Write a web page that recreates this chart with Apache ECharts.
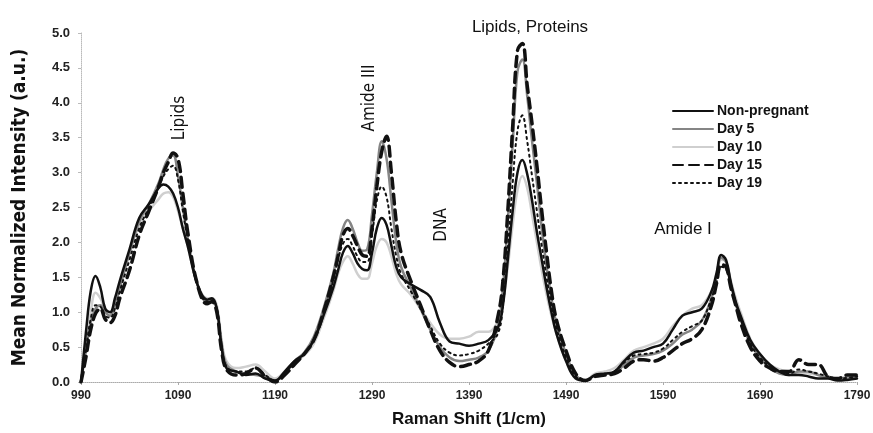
<!DOCTYPE html>
<html><head><meta charset="utf-8">
<script src="https://cdn.jsdelivr.net/npm/echarts@6/dist/echarts.min.js"></script>
<style>html,body{margin:0;padding:0;background:#fff}#c{width:873px;height:433px}</style>
</head><body><div id="c"></div>
<script>
const shifts = [990,995,1000,1005,1010,1015,1020,1025,1030,1040,1050,1060,1070,1075,1080,1085,1090,1095,1100,1110,1120,1125,1130,1135,1140,1150,1160,1170,1180,1190,1200,1210,1220,1230,1240,1250,1255,1260,1265,1270,1275,1280,1285,1290,1295,1300,1305,1310,1315,1320,1330,1340,1350,1360,1370,1380,1390,1400,1410,1420,1425,1430,1435,1440,1445,1450,1455,1460,1465,1470,1475,1480,1490,1500,1510,1520,1530,1540,1550,1560,1570,1580,1590,1600,1610,1620,1630,1640,1645,1650,1655,1660,1665,1670,1680,1690,1700,1710,1720,1730,1740,1750,1760,1770,1780,1790];

const nonPregnant = [0.0,0.7,1.3,1.52,1.35,1.05,1.0,1.2,1.45,1.9,2.35,2.55,2.78,2.83,2.8,2.7,2.5,2.2,1.95,1.4,1.18,1.2,1.05,0.5,0.2,0.15,0.1,0.12,0.05,0.02,0.15,0.3,0.4,0.6,0.95,1.35,1.6,1.85,1.95,1.85,1.7,1.62,1.6,1.85,2.2,2.35,2.25,1.95,1.65,1.5,1.4,1.32,1.22,0.85,0.58,0.55,0.52,0.55,0.6,0.78,1.1,1.75,2.45,3.0,3.18,2.98,2.6,2.15,1.75,1.35,1.0,0.7,0.3,0.05,0.02,0.1,0.12,0.15,0.3,0.42,0.45,0.5,0.55,0.75,0.95,1.0,1.05,1.3,1.55,1.82,1.75,1.42,1.15,0.95,0.6,0.4,0.25,0.15,0.1,0.1,0.08,0.05,0.05,0.02,0.03,0.05];

const day5 = [0.0,0.45,0.85,1.05,1.1,1.0,0.95,1.1,1.35,1.85,2.3,2.55,2.85,3.05,3.2,3.25,2.95,2.5,2.05,1.4,1.15,1.18,1.05,0.55,0.25,0.15,0.12,0.1,0.08,0.02,0.12,0.3,0.42,0.65,1.05,1.55,1.9,2.2,2.32,2.2,2.0,1.88,1.9,2.4,3.0,3.45,3.2,2.6,2.0,1.65,1.35,1.05,0.75,0.5,0.35,0.3,0.32,0.35,0.45,0.8,1.35,2.3,3.4,4.45,4.62,4.1,3.45,2.85,2.2,1.65,1.2,0.85,0.4,0.1,0.02,0.1,0.12,0.13,0.25,0.35,0.38,0.4,0.45,0.55,0.68,0.75,0.88,1.2,1.5,1.78,1.72,1.4,1.12,0.9,0.55,0.35,0.2,0.12,0.1,0.15,0.15,0.1,0.06,0.05,0.05,0.08];

const day10 = [0.0,0.5,1.0,1.28,1.2,1.05,1.0,1.15,1.4,1.85,2.25,2.45,2.62,2.7,2.72,2.65,2.45,2.2,1.95,1.4,1.2,1.2,1.1,0.6,0.3,0.2,0.22,0.25,0.15,0.05,0.15,0.28,0.38,0.55,0.9,1.3,1.55,1.72,1.8,1.7,1.55,1.48,1.48,1.7,1.95,2.05,2.0,1.8,1.55,1.4,1.25,1.05,0.85,0.68,0.62,0.62,0.65,0.72,0.72,0.88,1.15,1.65,2.25,2.75,2.95,2.78,2.4,2.0,1.6,1.25,0.95,0.7,0.3,0.08,0.03,0.12,0.15,0.2,0.32,0.45,0.5,0.55,0.62,0.8,0.95,1.05,1.1,1.3,1.5,1.75,1.72,1.45,1.2,1.0,0.62,0.4,0.25,0.18,0.15,0.12,0.12,0.1,0.08,0.05,0.08,0.1];

const day15 = [0.0,0.35,0.75,0.98,1.05,0.9,0.85,0.95,1.2,1.6,2.1,2.45,2.8,3.0,3.15,3.28,3.2,2.7,2.15,1.4,1.12,1.15,1.0,0.45,0.18,0.1,0.12,0.2,0.08,0.0,0.1,0.25,0.4,0.6,1.0,1.5,1.8,2.1,2.2,2.1,1.95,1.82,1.8,2.2,2.8,3.3,3.52,3.0,2.3,1.85,1.45,1.1,0.75,0.45,0.28,0.22,0.25,0.3,0.45,0.95,1.45,2.45,3.65,4.75,4.85,4.25,3.7,3.1,2.45,1.85,1.3,0.9,0.45,0.12,0.02,0.08,0.1,0.12,0.2,0.3,0.32,0.3,0.35,0.45,0.55,0.62,0.75,1.1,1.4,1.68,1.65,1.35,1.1,0.85,0.5,0.3,0.2,0.15,0.15,0.32,0.25,0.25,0.08,0.05,0.1,0.1];

const day19 = [0.0,0.45,0.9,1.1,1.08,0.95,0.92,1.05,1.3,1.75,2.2,2.5,2.8,2.95,3.05,3.1,2.9,2.45,2.05,1.4,1.15,1.17,1.05,0.5,0.22,0.15,0.15,0.2,0.1,0.02,0.12,0.28,0.4,0.6,1.0,1.45,1.75,1.98,2.05,1.95,1.8,1.72,1.72,2.1,2.6,2.8,2.65,2.2,1.8,1.55,1.3,1.05,0.8,0.55,0.42,0.38,0.4,0.45,0.55,0.7,1.1,1.9,2.85,3.6,3.82,3.45,2.95,2.45,1.95,1.5,1.1,0.78,0.35,0.08,0.02,0.1,0.12,0.15,0.28,0.38,0.4,0.42,0.48,0.6,0.72,0.8,0.88,1.2,1.42,1.65,1.62,1.38,1.12,0.9,0.55,0.35,0.22,0.15,0.12,0.18,0.15,0.12,0.08,0.05,0.06,0.08];

const yTicks = [0,0.5,1,1.5,2,2.5,3,3.5,4,4.5,5];
const xTicks = [990,1090,1190,1290,1390,1490,1590,1690,1790];
const seriesNames = ['Non-pregnant','Day 5','Day 10','Day 15','Day 19'];

const pair = arr => shifts.map((x,i)=>[x,arr[i]]);
const chart = echarts.init(document.getElementById('c'));
const narrow = "'Liberation Sans Narrow','DejaVu Sans Condensed',sans-serif";
const sans = "'Liberation Sans',Arial,sans-serif";

function mkSeries(name, data, color, width, type, z){
  return {name, type:'line', data:pair(data), symbol:'none', smooth:0.4, z,
    lineStyle:{color, width, type, cap:'round'}, itemStyle:{color}, emphasis:{disabled:true}};
}

chart.setOption({
  animation:false,
  grid:{left:81, right:16, top:33, bottom:51, outerBoundsMode:'none', containLabel:false},
  legend:{
    orient:'vertical', left:672, top:104, padding:0, itemWidth:40, itemHeight:14, itemGap:4,
    data:seriesNames,
    itemStyle:{color:'transparent', borderWidth:0, opacity:0},
    textStyle:{fontFamily:sans, fontWeight:'bold', fontSize:14, color:'#111', padding:[0,0,0,-1]}
  },
  xAxis:{type:'value', min:990, max:1790, interval:100,
    name:'Raman Shift (1/cm)', nameLocation:'middle', nameGap:29,
    nameTextStyle:{fontFamily:sans, fontWeight:'bold', fontSize:17, color:'#111'},
    axisLine:{lineStyle:{color:'#aaa', type:'dotted', width:1}},
    axisTick:{show:true, length:3, lineStyle:{color:'#aaa'}},
    axisLabel:{fontFamily:sans, fontWeight:'bold', fontSize:12, color:'#222', margin:8,
      formatter:v=>String(v)},
    splitLine:{show:false}},
  yAxis:{type:'value', min:0, max:5, interval:0.5,
    name:'Mean Normalized Intensity (a.u.)', nameLocation:'middle', nameGap:51,
    nameTextStyle:{fontFamily:narrow, fontWeight:'bold', fontSize:19, color:'#111'},
    axisLine:{show:true, lineStyle:{color:'#bbb', type:'dotted', width:1}},
    axisTick:{show:true, inside:false, length:3, lineStyle:{color:'#bbb'}},
    axisLabel:{fontFamily:sans, fontWeight:'bold', fontSize:13, color:'#222', margin:11,
      formatter:v=>v.toFixed(1)},
    splitLine:{show:false}},
  graphic:[
    {type:'text', x:180, y:118, rotation:Math.PI/2, style:{text:'Lipids', font:"17px "+narrow, fill:'#111', textAlign:'center', textVerticalAlign:'middle'}},
    {type:'text', x:370, y:98, rotation:Math.PI/2, style:{text:'Amide III', font:"17px "+narrow, fill:'#111', textAlign:'center', textVerticalAlign:'middle'}},
    {type:'text', x:442, y:225, rotation:Math.PI/2, style:{text:'DNA', font:"17px "+narrow, fill:'#111', textAlign:'center', textVerticalAlign:'middle'}},
    {type:'text', x:530, y:27, style:{text:'Lipids, Proteins', font:"17px "+sans, fill:'#111', textAlign:'center', textVerticalAlign:'middle'}},
    {type:'text', x:683, y:229, style:{text:'Amide I', font:"17px "+sans, fill:'#111', textAlign:'center', textVerticalAlign:'middle'}}
  ],
  series:[
    mkSeries('Day 10', day10, '#cfcfcf', 2.5, 'solid', 1),
    mkSeries('Day 5', day5, '#858585', 2.5, 'solid', 2),
    mkSeries('Non-pregnant', nonPregnant, '#111', 2.5, 'solid', 3),
    mkSeries('Day 19', day19, '#111', 2, [2,4], 4),
    mkSeries('Day 15', day15, '#111', 3.5, [10,6], 5)
  ]
});
</script></body></html>
